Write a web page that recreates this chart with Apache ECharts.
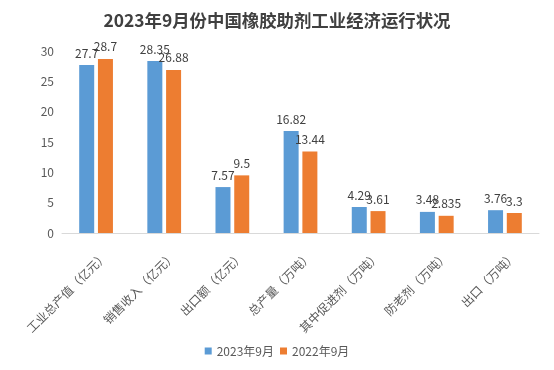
<!DOCTYPE html>
<html><head><meta charset="utf-8">
<script src="https://cdn.jsdelivr.net/npm/echarts@6/dist/echarts.min.js"></script>
<style>html,body{margin:0;padding:0;background:#fff}#c{width:554px;height:370px}</style>
</head><body><div id="c"></div>
<script>
const titleText = '2023年9月份中国橡胶助剂工业经济运行状况';
const categories = ['工业总产值（亿元）','销售收入（亿元）','出口额（亿元）','总产量（万吨）','其中促进剂（万吨）','防老剂（万吨）','出口（万吨）'];
const seriesNames = ['2023年9月','2022年9月'];
const values2023 = [27.7, 28.35, 7.57, 16.82, 4.29, 3.48, 3.76];
const values2022 = [28.7, 26.88, 9.5, 13.44, 3.61, 2.835, 3.3];
const yTicks = [0, 5, 10, 15, 20, 25, 30];

const font = "'Noto Sans CJK SC', sans-serif";
const chart = echarts.init(document.getElementById('c'));
const lbl = {show: true, position: 'top', distance: 6, color: '#404040', fontSize: 12, fontFamily: font};
chart.setOption({
  animation: false,
  title: {text: titleText, left: 'center', top: 7, textStyle: {fontSize: 17.4, fontWeight: 'bold', color: '#404040', fontFamily: font}},
  legend: {bottom: 8, left: 'center', itemWidth: 7, itemHeight: 7, icon: 'rect', itemGap: 6,
    textStyle: {color: '#595959', fontSize: 12, fontFamily: font}, data: seriesNames},
  grid: {left: 62, right: 15, top: 51, bottom: 137, containLabel: false},
  xAxis: {type: 'category', data: categories,
    axisLine: {lineStyle: {color: '#d9d9d9', width: 1}}, axisTick: {show: false},
    axisLabel: {rotate: 45, interval: 0, color: '#595959', fontSize: 12, fontFamily: font, margin: 30, padding: [0, -13, 0, 0]}},
  yAxis: {type: 'value', min: yTicks[0], max: yTicks[yTicks.length-1], interval: 5,
    axisLine: {show: false}, axisTick: {show: false}, splitLine: {show: false},
    axisLabel: {color: '#595959', fontSize: 12, fontFamily: font, margin: 8}},
  series: [
    {name: seriesNames[0], type: 'bar', data: values2023, barWidth: 15, barGap: '25%', itemStyle: {color: '#5B9BD5'}, label: lbl},
    {name: seriesNames[1], type: 'bar', data: values2022, barWidth: 15, itemStyle: {color: '#ED7D31'}, label: lbl}
  ]
});
</script></body></html>
